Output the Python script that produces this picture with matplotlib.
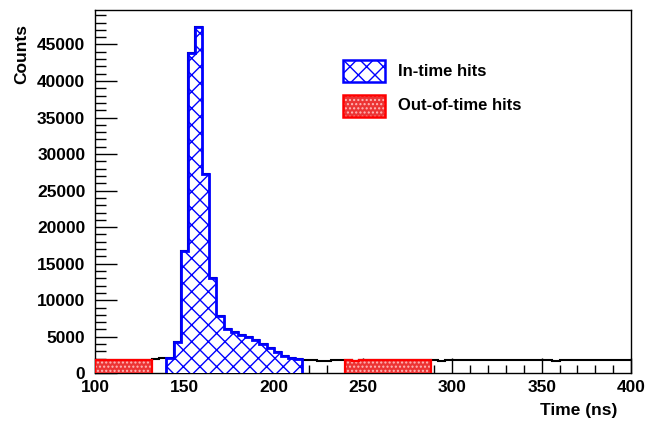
import numpy as np
import matplotlib
matplotlib.use("Agg")
import matplotlib.pyplot as plt
from matplotlib.patches import Rectangle
from matplotlib.ticker import MultipleLocator

# ---------------- data ----------------
bin_width = 4
x_start, x_stop = 100, 400

# total counts per 4 ns bin (100 -> 400 ns)
counts = [
    # 100-132 (out-of-time)
    1830, 1800, 1790, 1760, 1800, 1820, 1790, 1810,
    # 132-140
    1900, 2080,
    # 140-216 (in-time)
    2150, 4250, 16700, 43850, 47350, 27320, 12980, 7870, 6100, 5700,
    5300, 4950, 4550, 4000, 3400, 2850, 2350, 2050, 1900,
    # 216-240
    1800, 1780, 1750, 1720, 1760, 1790,
    # 240-288 (out-of-time)
    1760, 1740, 1780, 1800, 1790, 1820, 1810, 1790, 1800, 1780, 1760, 1770,
    # 288-400
    1760, 1740, 1770, 1780, 1790, 1800, 1770, 1760, 1780, 1790, 1770, 1760,
    1780, 1790, 1800, 1770, 1760, 1750, 1770, 1780, 1790, 1770, 1760, 1780,
    1790, 1770, 1780, 1790,
]
in_time_range = (140, 216)
out_time_ranges = [(100, 132), (240, 288)]
legend_labels = ["In-time hits", "Out-of-time hits"]
x_label = "Time (ns)"
y_label = "Counts"

# ---------------- plotting ----------------
plt.rcParams['font.family'] = ['Liberation Sans', 'DejaVu Sans']
plt.rcParams['font.weight'] = 'bold'
plt.rcParams['hatch.linewidth'] = 1.0

counts = np.array(counts, dtype=float)
edges = np.arange(x_start, x_stop + bin_width, bin_width)

W, H = 657, 424
fig = plt.figure(figsize=(W / 100, H / 100), dpi=100)
ax = fig.add_axes([95 / W, 1 - 373.3 / H, (631 - 95) / W, (373.3 - 10) / H])

RED_FILL = '#ec3434'
RED_DOT = '#ffb8b8'

def sub(lo, hi):
    m0 = int(round((lo - x_start) / bin_width))
    m1 = int(round((hi - x_start) / bin_width))
    return counts[m0:m1], edges[m0:m1 + 1]

# total (black)
ax.stairs(counts, edges, color='black', lw=1.5, baseline=None, zorder=2)

# out-of-time (red)
for lo, hi in out_time_ranges:
    c, e = sub(lo, hi)
    ax.stairs(c, e, fill=True, facecolor=RED_FILL, edgecolor=RED_DOT,
              hatch='....', lw=0, zorder=3)
    ax.stairs(c, e, color='red', lw=1.6, baseline=0, zorder=4)

# in-time (blue)
c, e = sub(*in_time_range)
ax.stairs(c, e, fill=True, facecolor='white', edgecolor='blue',
          hatch='xx', lw=0, zorder=3)
ax.stairs(c, e, color='blue', lw=2.0, baseline=0, zorder=4)

ax.set_xlim(x_start, x_stop)
ax.set_ylim(0, 1.05 * counts.max())

ax.xaxis.set_major_locator(MultipleLocator(50))
ax.xaxis.set_minor_locator(MultipleLocator(10))
ax.yaxis.set_major_locator(MultipleLocator(5000))
ax.yaxis.set_minor_locator(MultipleLocator(1000))
ax.tick_params(axis='both', which='both', direction='in', top=False, right=False,
               labelsize=12.5, width=1.0)
ax.tick_params(axis='x', which='major', length=11, pad=5)
ax.tick_params(axis='x', which='minor', length=5.5)
ax.tick_params(axis='y', which='major', length=16, pad=7)
ax.tick_params(axis='y', which='minor', length=8)
for lab in ax.get_xticklabels() + ax.get_yticklabels():
    lab.set_fontweight('bold')
for s in ax.spines.values():
    s.set_linewidth(1.0)

fig.text(617 / W, 1 - 410 / H, x_label, ha='right', va='center',
         fontsize=12.5, fontweight='bold')
fig.text(21.7 / W, 1 - 24 / H, y_label, ha='center', va='top', rotation=90,
         fontsize=12.5, fontweight='bold')

# legend (drawn manually, ROOT style)
box_x0, box_w, box_h = 343, 42, 22
rows_y = [60, 95]
for i, (lbl, y0) in enumerate(zip(legend_labels, rows_y)):
    rect_xy = (box_x0 / W, 1 - (y0 + box_h) / H)
    if i == 0:
        r = Rectangle(rect_xy, box_w / W, box_h / H, transform=fig.transFigure,
                      facecolor='white', edgecolor='blue', hatch='xx', lw=0)
        rb = Rectangle(rect_xy, box_w / W, box_h / H, transform=fig.transFigure,
                       facecolor='none', edgecolor='blue', lw=1.8)
    else:
        r = Rectangle(rect_xy, box_w / W, box_h / H, transform=fig.transFigure,
                      facecolor=RED_FILL, edgecolor=RED_DOT, hatch='....', lw=0)
        rb = Rectangle(rect_xy, box_w / W, box_h / H, transform=fig.transFigure,
                       facecolor='none', edgecolor='red', lw=1.8)
    fig.add_artist(r)
    fig.add_artist(rb)
    fig.text(398 / W, 1 - (y0 + box_h / 2) / H, lbl, ha='left', va='center',
             fontsize=12, fontweight='bold')

fig.savefig('out.png', dpi=100)
